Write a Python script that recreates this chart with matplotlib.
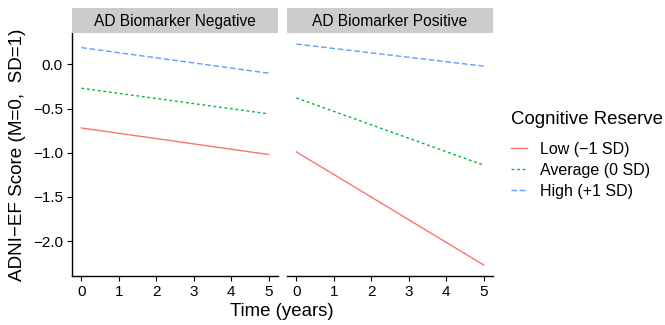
import numpy as np
import matplotlib.pyplot as plt

plt.rcParams["font.family"] = ["Liberation Sans", "DejaVu Sans"]

panels = ["AD Biomarker Negative", "AD Biomarker Positive"]
groups = ["Low (\u22121 SD)", "Average (0 SD)", "High (+1 SD)"]
years = [0, 5]
# start / end values per group for each panel
neg_vals = [[-0.72, -1.02], [-0.27, -0.56], [0.19, -0.10]]
pos_vals = [[-0.99, -2.27], [-0.38, -1.14], [0.23, -0.02]]

colors = ["#F8766D", "#00BA38", "#619CFF"]
styles = ["-", (0, (2, 2)), (0, (4, 2))]

fig = plt.figure(figsize=(6.65, 3.25), dpi=100)
W, H = 665, 325


def px_axes(x0, y0, x1, y1):
    return fig.add_axes([x0 / W, 1 - y1 / H, (x1 - x0) / W, (y1 - y0) / H])


ax_l = px_axes(72, 33, 278, 276)
ax_r = px_axes(287, 33, 493, 276)

for ax, title, vals, x0 in [(ax_l, panels[0], neg_vals, 72), (ax_r, panels[1], pos_vals, 287)]:
    handles = []
    for v, c, ls, g in zip(vals, colors, styles, groups):
        h, = ax.plot(years, v, color=c, linestyle=ls, linewidth=1.0, label=g)
        handles.append(h)
    ax.set_xlim(-0.25, 5.25)
    ax.set_ylim(-2.395, 0.355)
    ax.set_xticks(range(6))
    ax.set_yticks([0.0, -0.5, -1.0, -1.5, -2.0])
    ax.set_yticklabels(["0.0", "\u22120.5", "\u22121.0", "\u22121.5", "\u22122.0"])
    ax.tick_params(labelsize=11, length=3.5, width=0.8, pad=3, colors="black")
    for s in ["top", "right"]:
        ax.spines[s].set_visible(False)
    ax.spines["left"].set_linewidth(1.0)
    ax.spines["bottom"].set_linewidth(1.0)
    # facet strip
    strip = px_axes(x0, 8, x0 + 206, 33)
    strip.set_facecolor("#CCCCCC")
    strip.set_xticks([])
    strip.set_yticks([])
    for s in strip.spines.values():
        s.set_visible(False)
    strip.text(0.5, 0.45, title, ha="center", va="center", fontsize=11.2)

ax_r.spines["left"].set_visible(False)
ax_r.tick_params(axis="y", left=False, labelleft=False)

ax_l.set_ylabel("ADNI\u2212EF Score (M=0,  SD=1)", fontsize=13.6, labelpad=5)
fig.text(282 / W, 1 - 312 / H, "Time (years)", ha="center", va="center", fontsize=13.4)

leg = fig.legend(handles=handles, labels=groups, title="Cognitive Reserve",
                 loc="upper left", bbox_to_anchor=(511 / W, 1 - 111 / H),
                 frameon=False, fontsize=11.5, title_fontsize=13.4,
                 borderpad=0, borderaxespad=0,
                 handlelength=1.0, handletextpad=0.8, labelspacing=0.38)
leg._legend_box.align = "left"
leg._legend_box.sep = 10

fig.savefig("out.png", dpi=100)
